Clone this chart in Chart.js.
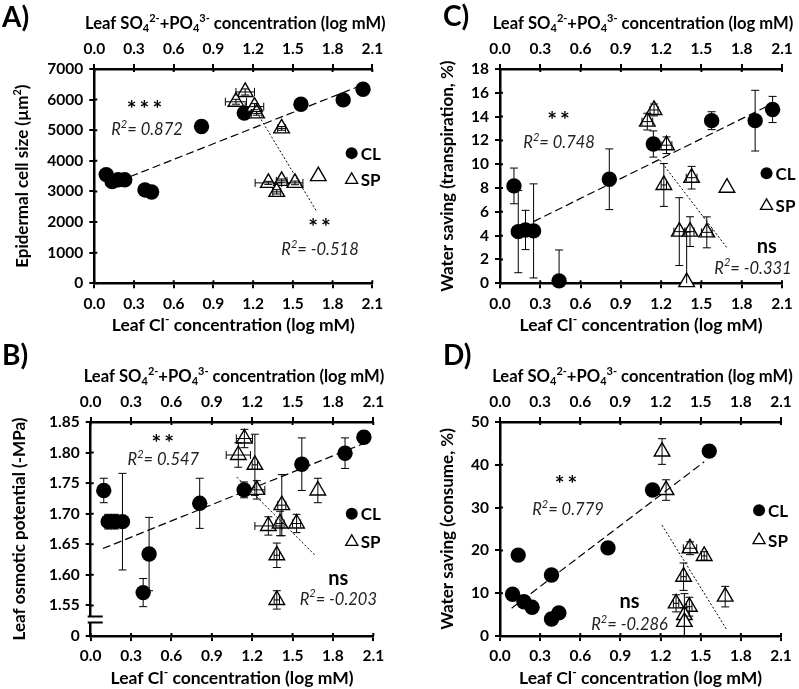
<!DOCTYPE html>
<html><head><meta charset="utf-8">
<script src="https://cdn.jsdelivr.net/npm/chart.js@4.4.1/dist/chart.umd.min.js"></script>
<style>
html,body{margin:0;padding:0;background:#fff;}
#wrap{position:relative;width:799px;height:689px;overflow:hidden;background:#fff;}
canvas{position:absolute;}
</style></head><body><div id="wrap">
<canvas id="cA" width="400" height="340" style="left:0;top:0"></canvas>
<canvas id="cC" width="399" height="340" style="left:400px;top:0"></canvas>
<canvas id="cB" width="400" height="349" style="left:0;top:340px"></canvas>
<canvas id="cD" width="399" height="349" style="left:400px;top:340px"></canvas>
</div>
<script>
// ---------- shared axis ticks ----------
const X_TICKS = [0.0, 0.3, 0.6, 0.9, 1.2, 1.5, 1.8, 2.1];
const X_TICK_LABELS = ['0.0', '0.3', '0.6', '0.9', '1.2', '1.5', '1.8', '2.1'];

// ---------- Panel A: epidermal cell size ----------
const A_Y_TICKS = [0, 1000, 2000, 3000, 4000, 5000, 6000, 7000];
const A_Y_LABELS = ['0', '1000', '2000', '3000', '4000', '5000', '6000', '7000'];
const A_CL_x = [0.09, 0.135, 0.18, 0.23, 0.383, 0.433, 0.81, 1.133, 1.561, 1.88, 2.03];
const A_CL_y = [3550, 3320, 3380, 3380, 3050, 2980, 5120, 5560, 5850, 5990, 6340];
const A_CL_yerr = [0, 0, 0, 0, 0, 0, 0, 0, 0, 0, 0];
const A_CL_xerr = [0, 0, 0, 0, 0, 0, 0, 0, 0, 0, 0];
const A_SP_x = [1.14, 1.07, 1.21, 1.226, 1.415, 1.315, 1.415, 1.378, 1.516, 1.692];
const A_SP_y = [6250, 5930, 5770, 5550, 5060, 3280, 3346, 2987, 3280, 3500];
const A_SP_yerr = [100, 80, 100, 60, 60, 50, 60, 70, 60, 0];
const A_SP_xerr = [0.07, 0.08, 0.07, 0.04, 0.03, 0.1, 0.04, 0.03, 0.06, 0];
const A_CL_fit_x = [0.272, 2.03];
const A_CL_fit_y = [3487, 6487];
const A_SP_fit_x = [1.229, 1.682];
const A_SP_fit_y = [5571, 2332];

// ---------- Panel C: water saving (transpiration) ----------
const C_Y_TICKS = [0, 2, 4, 6, 8, 10, 12, 14, 16, 18];
const C_Y_LABELS = ['0', '2', '4', '6', '8', '10', '12', '14', '16', '18'];
const C_CL_x = [0.104, 0.136, 0.19, 0.25, 0.44, 0.814, 1.142, 1.576, 1.90, 2.03];
const C_CL_y = [8.18, 4.34, 4.48, 4.4, 0.2, 8.74, 11.7, 13.66, 13.66, 14.6];
const C_CL_yerr = [1.5, 3.45, 1.65, 3.95, 2.6, 2.55, 1.1, 0.75, 2.55, 1.1];
const C_CL_xerr = [0, 0, 0, 0, 0, 0, 0, 0, 0, 0];
const C_SP_x = [1.147, 1.097, 1.24, 1.22, 1.427, 1.69, 1.335, 1.415, 1.54, 1.39];
const C_SP_y = [14.56, 13.58, 11.6, 8.26, 8.87, 8.03, 4.34, 4.34, 4.28, 0.1];
const C_SP_yerr = [0.5, 0.7, 0.7, 1.8, 0.95, 0, 2.85, 1.25, 1.3, 4.2];
const C_SP_xerr = [0.03, 0.04, 0.04, 0.02, 0.04, 0, 0.04, 0.03, 0.04, 0];
const C_CL_fit_x = [0.25, 2.03];
const C_CL_fit_y = [5.18, 15.1];
const C_SP_fit_x = [1.19, 1.69];
const C_SP_fit_y = [10.36, 2.99];

// ---------- Panel B: leaf osmotic potential ----------
const B_Y_TICKS = [1.50, 1.55, 1.60, 1.65, 1.70, 1.75, 1.80, 1.85];
const B_Y_LABELS = ['0', '1.55', '1.60', '1.65', '1.70', '1.75', '1.80', '1.85'];
const B_CL_x = [0.097, 0.13, 0.18, 0.236, 0.39, 0.434, 0.81, 1.14, 1.569, 1.89, 2.03];
const B_CL_y = [1.738, 1.687, 1.687, 1.687, 1.571, 1.634, 1.717, 1.739, 1.781, 1.799, 1.825];
const B_CL_yerr = [0.02, 0.012, 0.012, 0.079, 0.023, 0.06, 0.041, 0.013, 0.043, 0.025, 0.01];
const B_CL_xerr = [0, 0, 0, 0, 0, 0, 0, 0, 0, 0, 0];
const B_SP_x = [1.142, 1.097, 1.22, 1.234, 1.688, 1.42, 1.32, 1.407, 1.53, 1.383, 1.383];
const B_SP_y = [1.823, 1.796, 1.78, 1.739, 1.738, 1.714, 1.68, 1.684, 1.684, 1.632, 1.559];
const B_SP_yerr = [0.015, 0.02, 0.05, 0.015, 0.02, 0.05, 0.015, 0.02, 0.015, 0.02, 0.015];
const B_SP_xerr = [0.06, 0.09, 0.02, 0.06, 0, 0.03, 0.1, 0.03, 0.03, 0.02, 0.02];
const B_CL_fit_x = [0.09, 2.03];
const B_CL_fit_y = [1.643, 1.815];
const B_SP_fit_x = [1.085, 1.668];
const B_SP_fit_y = [1.76, 1.632];

// ---------- Panel D: water saving (consume) ----------
const D_Y_TICKS = [0, 10, 20, 30, 40, 50];
const D_Y_LABELS = ['0', '10', '20', '30', '40', '50'];
const D_CL_x = [0.094, 0.136, 0.179, 0.24, 0.385, 0.385, 0.44, 0.807, 1.14, 1.564];
const D_CL_y = [9.74, 18.9, 8.0, 6.7, 14.25, 3.97, 5.4, 20.6, 34.1, 43.2];
const D_CL_yerr = [0, 0, 0, 0, 0, 0, 0, 0, 0, 0];
const D_CL_xerr = [0, 0, 0, 0, 0, 0, 0, 0, 0, 0];
const D_SP_x = [1.211, 1.241, 1.42, 1.526, 1.372, 1.683, 1.316, 1.415, 1.378, 1.378];
const D_SP_y = [43.1, 34.1, 20.5, 18.7, 13.86, 9.2, 7.63, 6.85, 4.9, 3.3];
const D_SP_yerr = [3, 2.4, 1.5, 1, 3.2, 2.4, 2, 2.2, 5, 3.3];
const D_SP_xerr = [0, 0, 0.05, 0.02, 0.02, 0, 0.02, 0.02, 0, 0];
const D_CL_fit_x = [0.087, 1.526];
const D_CL_fit_y = [6.5, 40.7];
const D_SP_fit_x = [1.211, 1.693];
const D_SP_fit_y = [25.9, 1.56];

// ---------- text ----------
const TOP_TITLE = 'Leaf SO_{4}^{2-}+PO_{4}^{3-} concentration (log mM)';
const BOTTOM_TITLE = 'Leaf Cl^{-} concentration (log mM)';
const FONT = "Lato, 'Open Sans', 'DejaVu Sans', sans-serif";
const TOP_TITLE_SIZE = 16.6;
const BOTTOM_TITLE_SIZE = 17.5;
const Y_TITLE_SIZE = 17;

function zip(xs, ys) { return xs.map((x, i) => ({x: x, y: ys[i]})); }

function parseRich(s) {
  const segs = []; let i = 0, buf = '';
  while (i < s.length) {
    if ((s[i] === '_' || s[i] === '^') && s[i + 1] === '{') {
      if (buf) { segs.push({t: buf, m: 0}); buf = ''; }
      const j = s.indexOf('}', i);
      segs.push({t: s.slice(i + 2, j), m: s[i] === '_' ? 1 : -1});
      i = j + 1;
    } else { buf += s[i]; i++; }
  }
  if (buf) segs.push({t: buf, m: 0});
  return segs;
}
function drawRich(ctx, str, x, y, size, o) {
  o = o || {};
  const style = o.style || 'normal', weight = o.weight || 'bold';
  const big = `${style} ${weight} ${size}px ${FONT}`;
  const sm = `${style} ${weight} ${Math.round(size * 0.66)}px ${FONT}`;
  const segs = parseRich(str);
  ctx.save();
  ctx.translate(x, y);
  if (o.rotate) ctx.rotate(o.rotate);
  ctx.textBaseline = 'middle';
  ctx.textAlign = 'left';
  ctx.fillStyle = o.color || '#000';
  let total = 0;
  segs.forEach(s => { ctx.font = s.m ? sm : big; s.w = ctx.measureText(s.t).width; total += s.w; });
  let cx = o.align === 'left' ? 0 : -total / 2;
  segs.forEach(s => {
    ctx.font = s.m ? sm : big;
    const dy = s.m === 1 ? size * 0.25 : (s.m === -1 ? -size * 0.33 : 0);
    ctx.fillText(s.t, cx, dy);
    cx += s.w;
  });
  ctx.restore();
}

const EXTRAS = {};

const panelPlugin = {
  id: 'panelExtras',
  afterDatasetsDraw(chart) {
    const ex = EXTRAS[chart.canvas.id]; if (!ex) return;
    const ctx = chart.ctx, xs = chart.scales.x, ys = chart.scales.y, ca = chart.chartArea;
    ctx.save();
    ctx.beginPath();
    ctx.rect(ca.left - 20, 0, ca.right - ca.left + 40, ca.bottom);
    ctx.clip();
    ctx.strokeStyle = '#000'; ctx.lineWidth = 1;
    ex.errors.forEach(e => {
      e.x.forEach((xv, i) => {
        const px = xs.getPixelForValue(xv), py = ys.getPixelForValue(e.y[i]);
        const ye = e.yerr[i], xe = e.xerr[i], cap = 4;
        if (ye > 0) {
          const p1 = ys.getPixelForValue(e.y[i] + ye), p2 = ys.getPixelForValue(e.y[i] - ye);
          ctx.beginPath();
          ctx.moveTo(px, p1); ctx.lineTo(px, p2);
          ctx.moveTo(px - cap, p1); ctx.lineTo(px + cap, p1);
          ctx.moveTo(px - cap, p2); ctx.lineTo(px + cap, p2);
          ctx.stroke();
        }
        if (xe > 0) {
          const q1 = xs.getPixelForValue(xv - xe), q2 = xs.getPixelForValue(xv + xe);
          ctx.beginPath();
          ctx.moveTo(q1, py); ctx.lineTo(q2, py);
          ctx.moveTo(q1, py - cap); ctx.lineTo(q1, py + cap);
          ctx.moveTo(q2, py - cap); ctx.lineTo(q2, py + cap);
          ctx.stroke();
        }
      });
    });
    ctx.restore();
  },
  afterDraw(chart) {
    const ex = EXTRAS[chart.canvas.id]; if (!ex) return;
    const ctx = chart.ctx, ca = chart.chartArea;
    const xs = chart.scales.x, ys = chart.scales.y;
    // inward tick parts (cross ticks)
    ctx.save();
    ctx.strokeStyle = '#000'; ctx.lineWidth = 2;
    ctx.beginPath();
    X_TICKS.forEach(v => {
      const px = xs.getPixelForValue(v);
      ctx.moveTo(px, ca.bottom); ctx.lineTo(px, ca.bottom - 3);
      ctx.moveTo(px, ca.top); ctx.lineTo(px, ca.top + 3);
    });
    ex.yTicks.forEach(v => {
      const py = ys.getPixelForValue(v);
      ctx.moveTo(ca.left, py); ctx.lineTo(ca.left + 3, py);
    });
    ctx.stroke();
    ctx.restore();
    // axis break
    if (ex.brk) {
      const y1 = ys.getPixelForValue(ex.brk[1]), y2 = ys.getPixelForValue(ex.brk[0]);
      ctx.save();
      ctx.fillStyle = '#fff';
      ctx.fillRect(ca.left - 3, y1, 6, y2 - y1);
      ctx.strokeStyle = '#000'; ctx.lineWidth = 2;
      ctx.beginPath();
      ctx.moveTo(ca.left - 3, y1); ctx.lineTo(ca.left + 12, y1);
      ctx.moveTo(ca.left - 3, y2); ctx.lineTo(ca.left + 12, y2);
      ctx.stroke();
      ctx.restore();
    }
    // titles
    const cxm = (ca.left + ca.right) / 2, cym = (ca.top + ca.bottom) / 2;
    drawRich(ctx, TOP_TITLE, cxm + 2, ca.top - 45, TOP_TITLE_SIZE, {});
    drawRich(ctx, BOTTOM_TITLE, cxm, ca.bottom + 42, BOTTOM_TITLE_SIZE, {});
    drawRich(ctx, ex.yTitle, ex.yTitleX, cym, Y_TITLE_SIZE, {rotate: -Math.PI / 2});
    // panel letter
    ctx.save();
    ctx.font = `bold 28px ${FONT}`; ctx.fillStyle = '#000';
    ctx.textBaseline = 'alphabetic'; ctx.textAlign = 'left';
    ctx.fillText(ex.letter, ex.letterX, ex.letterY);
    ctx.restore();
    // annotations
    ex.notes.forEach(n => {
      const px = xs.getPixelForValue(n.x), py = ys.getPixelForValue(n.y);
      if (n.kind === 'stars') {
        ctx.save();
        ctx.font = `bold 23px ${FONT}`; ctx.fillStyle = '#000';
        ctx.textAlign = 'center'; ctx.textBaseline = 'middle';
        ctx.letterSpacing = '3px';
        ctx.fillText(n.text, px + 1, py + 5);
        ctx.restore();
      } else if (n.kind === 'ns') {
        drawRich(ctx, n.text, px, py, 20, {});
      } else {
        drawRich(ctx, n.text, px, py, 16.5, {style: 'italic', weight: 'normal', color: '#222'});
      }
    });
    // legend
    const lx = xs.getPixelForValue(ex.legend.x);
    const l1 = ys.getPixelForValue(ex.legend.y1), l2 = ys.getPixelForValue(ex.legend.y2);
    ctx.save();
    ctx.fillStyle = '#000';
    ctx.beginPath(); ctx.arc(lx, l1, 6, 0, Math.PI * 2); ctx.fill();
    ctx.strokeStyle = '#000'; ctx.lineWidth = 1.3;
    const r = 7;
    ctx.beginPath();
    ctx.moveTo(lx, l2 - r); ctx.lineTo(lx + r * 0.866, l2 + r / 2); ctx.lineTo(lx - r * 0.866, l2 + r / 2); ctx.closePath();
    ctx.stroke();
    ctx.font = `bold 17px ${FONT}`; ctx.textBaseline = 'middle'; ctx.textAlign = 'left';
    ctx.fillText('CL', lx + 9, l1 + 1);
    ctx.fillText('SP', lx + 9, l2 + 1);
    ctx.restore();
  }
};

function makePanel(p) {
  const cv = document.getElementById(p.id);
  const W = cv.width, H = cv.height, a = p.area;
  EXTRAS[p.id] = p;
  const tickFont = {family: FONT, size: 15.5, weight: 'bold'};
  const gridCfg = {display: true, drawOnChartArea: false, drawTicks: true, tickLength: 5, color: '#000', lineWidth: 2};
  const xCfg = pos => ({
    type: 'linear', position: pos, min: 0, max: 2.1,
    afterBuildTicks: s => { s.ticks = X_TICKS.map(v => ({value: v})); },
    afterFit: s => { s.height = 30; s.paddingLeft = 0; s.paddingRight = 0; },
    ticks: {callback: (v, i) => X_TICK_LABELS[i], color: '#000', font: tickFont, padding: 6, maxRotation: 0, minRotation: 0, autoSkip: false},
    grid: gridCfg,
    border: {display: true, color: '#000', width: 2.5}
  });
  const dsCommon = {showLine: false, clip: false};
  new Chart(cv, {
    type: 'scatter',
    data: {
      datasets: [
        {type: 'line', data: zip(p.clFit[0], p.clFit[1]), borderColor: '#000', borderWidth: 1.2, borderDash: [8, 4], pointRadius: 0, fill: false, clip: false},
        {type: 'line', data: zip(p.spFit[0], p.spFit[1]), borderColor: '#000', borderWidth: 1, borderDash: [2, 2], pointRadius: 0, fill: false, clip: false},
        Object.assign({data: zip(p.sp[0], p.sp[1]), pointStyle: 'triangle', pointRadius: 9, pointBackgroundColor: '#fff', pointBorderColor: '#000', pointBorderWidth: 1.4, pointHoverRadius: 9}, dsCommon),
        Object.assign({data: zip(p.cl[0], p.cl[1]), pointStyle: 'circle', pointRadius: 7.7, pointBackgroundColor: '#000', pointBorderColor: '#000', pointBorderWidth: 0, pointHoverRadius: 7.7}, dsCommon)
      ]
    },
    options: {
      responsive: false, animation: false, events: [],
      layout: {padding: {left: a.l - 60, right: W - a.r, top: a.t - 30, bottom: H - a.b - 30}},
      plugins: {legend: {display: false}, tooltip: {enabled: false}},
      scales: {
        x: xCfg('bottom'),
        x2: xCfg('top'),
        y: {
          type: 'linear', position: 'left', min: p.yTicks[0], max: p.yTicks[p.yTicks.length - 1],
          afterBuildTicks: s => { s.ticks = p.yTicks.map(v => ({value: v})); },
          afterFit: s => { s.width = 60; s.paddingTop = 0; s.paddingBottom = 0; },
          ticks: {callback: (v, i) => p.yLabels[i], color: '#000', font: tickFont, padding: 6, autoSkip: false},
          grid: gridCfg,
          border: {display: true, color: '#000', width: 2.5}
        }
      }
    },
    plugins: [panelPlugin]
  });
}

makePanel({
  id: 'cA', letter: 'A)', letterX: 2, letterY: 27,
  area: {l: 94.3, r: 372.3, t: 69, b: 283.3},
  yTicks: A_Y_TICKS, yLabels: A_Y_LABELS,
  yTitle: 'Epidermal cell size (µm^{2})', yTitleX: 23,
  cl: [A_CL_x, A_CL_y], sp: [A_SP_x, A_SP_y],
  clFit: [A_CL_fit_x, A_CL_fit_y], spFit: [A_SP_fit_x, A_SP_fit_y],
  errors: [{x: A_CL_x, y: A_CL_y, yerr: A_CL_yerr, xerr: A_CL_xerr}, {x: A_SP_x, y: A_SP_y, yerr: A_SP_yerr, xerr: A_SP_xerr}],
  notes: [
    {kind: 'stars', text: '***', x: 0.383, y: 5833},
    {kind: 'r2', text: 'R^{2}= 0.872', x: 0.398, y: 5015},
    {kind: 'stars', text: '**', x: 1.705, y: 1973},
    {kind: 'r2', text: 'R^{2}= -0.518', x: 1.705, y: 1089}
  ],
  legend: {x: 1.944, y1: 4252, y2: 3379}
});
makePanel({
  id: 'cC', letter: 'C)', letterX: 43, letterY: 26,
  area: {l: 100, r: 382, t: 69, b: 283.3},
  yTicks: C_Y_TICKS, yLabels: C_Y_LABELS,
  yTitle: 'Water saving (transpiration, %)', yTitleX: 48,
  cl: [C_CL_x, C_CL_y], sp: [C_SP_x, C_SP_y],
  clFit: [C_CL_fit_x, C_CL_fit_y], spFit: [C_SP_fit_x, C_SP_fit_y],
  errors: [{x: C_CL_x, y: C_CL_y, yerr: C_CL_yerr, xerr: C_CL_xerr}, {x: C_SP_x, y: C_SP_y, yerr: C_SP_yerr, xerr: C_SP_xerr}],
  notes: [
    {kind: 'stars', text: '**', x: 0.44, y: 14.06},
    {kind: 'r2', text: 'R^{2}= 0.748', x: 0.44, y: 11.8},
    {kind: 'ns', text: 'ns', x: 1.986, y: 3.08},
    {kind: 'r2', text: 'R^{2}= -0.331', x: 1.884, y: 1.26}
  ],
  legend: {x: 1.985, y1: 9.24, y2: 6.5}
});
makePanel({
  id: 'cB', letter: 'B)', letterX: 2, letterY: 25,
  area: {l: 90.7, r: 373.3, t: 82, b: 296},
  yTicks: B_Y_TICKS, yLabels: B_Y_LABELS,
  yTitle: 'Leaf osmotic potential (-MPa)', yTitleX: 20,
  cl: [B_CL_x, B_CL_y], sp: [B_SP_x, B_SP_y],
  clFit: [B_CL_fit_x, B_CL_fit_y], spFit: [B_SP_fit_x, B_SP_fit_y],
  errors: [{x: B_CL_x, y: B_CL_y, yerr: B_CL_yerr, xerr: B_CL_xerr}, {x: B_SP_x, y: B_SP_y, yerr: B_SP_yerr, xerr: B_SP_xerr}],
  brk: [1.522, 1.532],
  notes: [
    {kind: 'stars', text: '**', x: 0.54, y: 1.823},
    {kind: 'r2', text: 'R^{2}= 0.547', x: 0.54, y: 1.788},
    {kind: 'ns', text: 'ns', x: 1.84, y: 1.594},
    {kind: 'r2', text: 'R^{2}= -0.203', x: 1.84, y: 1.56}
  ],
  legend: {x: 1.94, y1: 1.70, y2: 1.654}
});
makePanel({
  id: 'cD', letter: 'D)', letterX: 43, letterY: 25,
  area: {l: 100, r: 381, t: 82, b: 296},
  yTicks: D_Y_TICKS, yLabels: D_Y_LABELS,
  yTitle: 'Water saving (consume, %)', yTitleX: 48,
  cl: [D_CL_x, D_CL_y], sp: [D_SP_x, D_SP_y],
  clFit: [D_CL_fit_x, D_CL_fit_y], spFit: [D_SP_fit_x, D_SP_fit_y],
  errors: [{x: D_CL_x, y: D_CL_y, yerr: D_CL_yerr, xerr: D_CL_xerr}, {x: D_SP_x, y: D_SP_y, yerr: D_SP_yerr, xerr: D_SP_xerr}],
  notes: [
    {kind: 'stars', text: '**', x: 0.497, y: 36.45},
    {kind: 'r2', text: 'R^{2}= 0.779', x: 0.508, y: 29.4},
    {kind: 'ns', text: 'ns', x: 0.968, y: 8.0},
    {kind: 'r2', text: 'R^{2}= -0.286', x: 0.968, y: 2.57}
  ],
  legend: {x: 1.936, y1: 29.4, y2: 22.4}
});
</script>
</body></html>
